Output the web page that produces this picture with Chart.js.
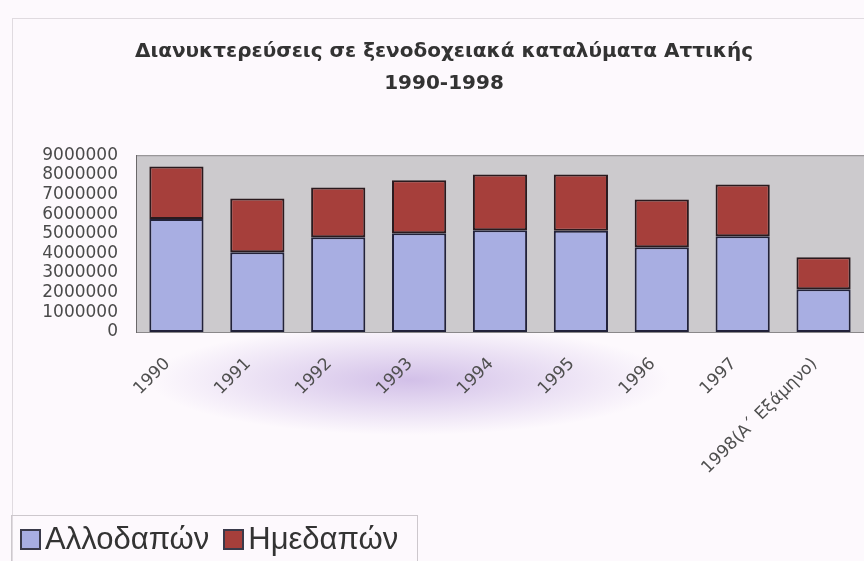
<!DOCTYPE html>
<html>
<head>
<meta charset="utf-8">
<script src="https://cdn.jsdelivr.net/npm/chart.js@4"></script>
<style>
  html, body { margin: 0; padding: 0; background: #fdf9fd; overflow: hidden; }
  #wrap {
    width: 864px; height: 561px; position: relative;
    background: radial-gradient(ellipse 260px 55px at 410px 380px, rgba(175,145,215,0.55), rgba(175,145,215,0) 100%);
  }
  #nightsChart { position: absolute; left: 0; top: 0; }
  #legend {
    position: absolute; left: 11px; top: 515px; width: 407px; height: 48px;
    border: 1px solid #cdc8cd; box-sizing: border-box;
    font-family: "Liberation Sans", Arial, sans-serif; font-size: 31px; color: #333;
    display: flex; align-items: center; white-space: nowrap;
  }
  #legend .item { display: flex; align-items: center; }
  #legend .box { width: 17px; height: 17px; border: 2px solid #3a3a4a; margin: 0 4px 0 8px; }
  #legend .item + .item .box { margin-left: 14px; }
</style>
</head>
<body>
<div id="wrap">
  <canvas id="nightsChart" width="864" height="561"></canvas>
  <div id="legend"></div>
</div>
<script>
const years = ["1990", "1991", "1992", "1993", "1994", "1995", "1996", "1997", "1998(Α΄ Εξάμηνο)"];
const foreigners = [5750000, 4060000, 4820000, 5030000, 5180000, 5150000, 4310000, 4870000, 2180000];
const domestic = [2680000, 2740000, 2540000, 2690000, 2840000, 2870000, 2440000, 2640000, 1630000];
const yTicks = [0, 1000000, 2000000, 3000000, 4000000, 5000000, 6000000, 7000000, 8000000, 9000000];
const seriesNames = ["Αλλοδαπών", "Ημεδαπών"];
const seriesColors = ["#a8aee2", "#a63f3b"];

// grey plot area + outer frame, as in the Excel original
const plotArea = {
  id: "plotArea",
  beforeDraw(chart) {
    const { ctx, chartArea: a } = chart;
    ctx.save();
    ctx.strokeStyle = "#e0dbe0";
    ctx.lineWidth = 1;
    ctx.strokeRect(12.5, 18.5, chart.width, chart.height);
    ctx.fillStyle = "#cccacd";
    ctx.fillRect(a.left, a.top, a.right - a.left, a.bottom - a.top);
    ctx.strokeStyle = "#8a888a";
    ctx.strokeRect(a.left + 0.5, a.top + 0.5, a.right - a.left, a.bottom - a.top);
    ctx.restore();
  },
};

const chart = new Chart(document.getElementById("nightsChart"), {
  type: "bar",
  data: {
    labels: years,
    datasets: [
      {
        label: seriesNames[0],
        data: foreigners,
        backgroundColor: seriesColors[0],
        borderColor: "#22223a",
        borderWidth: 2,
        borderSkipped: false,
      },
      {
        label: seriesNames[1],
        data: domestic,
        backgroundColor: seriesColors[1],
        borderColor: "#2a1a1e",
        borderWidth: 2,
        borderSkipped: false,
      },
    ],
  },
  options: {
    responsive: false,
    animation: false,
    layout: { padding: { left: 24, right: 0, top: 0, bottom: 0 } },
    datasets: { bar: { categoryPercentage: 0.67, barPercentage: 1 } },
    plugins: {
      title: {
        display: true,
        text: ["Διανυκτερεύσεις σε ξενοδοχειακά καταλύματα Αττικής", "1990-1998"],
        color: "#333",
        font: { family: "DejaVu Sans", size: 20, weight: "bold", lineHeight: 1.58 },
        padding: { top: 36, bottom: 56 },
      },
      legend: { display: false },
      tooltip: { enabled: false },
    },
    scales: {
      x: {
        stacked: true,
        grid: { display: false },
        border: { display: false },
        ticks: {
          color: "#505050",
          font: { family: "DejaVu Sans", size: 17 },
          minRotation: 45,
          maxRotation: 45,
          autoSkip: false,
          padding: 14,
          labelOffset: -9,
        },
        afterFit: (scale) => { scale.height = 229; },
      },
      y: {
        stacked: true,
        min: 0,
        max: 9000000,
        afterBuildTicks: (scale) => { scale.ticks = yTicks.map((v) => ({ value: v })); },
        grid: { display: false, drawTicks: false },
        border: { display: true, color: "#6a686a" },
        ticks: {
          color: "#4a4a4a",
          font: { family: "DejaVu Sans", size: 17, lineHeight: 1 },
          autoSkip: false,
          padding: 18,
          callback: (v) => String(v),
        },
        afterFit: (scale) => { scale.width = 112; },
      },
    },
  },
  plugins: [plotArea],
});

// legend as real html text, built from the datasets
const legendEl = document.getElementById("legend");
chart.data.datasets.forEach((ds) => {
  const item = document.createElement("span");
  item.className = "item";
  const box = document.createElement("span");
  box.className = "box";
  box.style.background = ds.backgroundColor;
  const txt = document.createElement("span");
  txt.textContent = ds.label;
  item.appendChild(box);
  item.appendChild(txt);
  legendEl.appendChild(item);
});
</script>
</body>
</html>
